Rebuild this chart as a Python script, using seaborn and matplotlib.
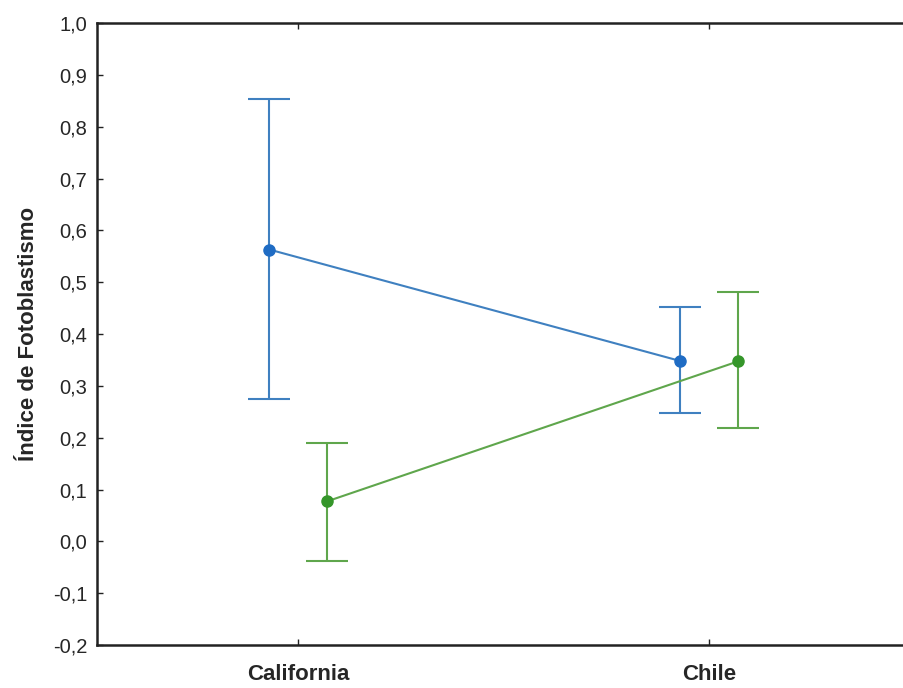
import numpy as np
import pandas as pd
import matplotlib
matplotlib.use("Agg")
import matplotlib.pyplot as plt
import seaborn as sns

# Data
categories = ["California", "Chile"]
groups = ["A", "B"]
mean_a = [0.563, 0.348]
upper_a = [0.853, 0.453]
lower_a = [0.274, 0.247]
mean_b = [0.077, 0.347]
upper_b = [0.189, 0.481]
lower_b = [-0.037, 0.218]
yticks = [-0.2, -0.1, 0.0, 0.1, 0.2, 0.3, 0.4, 0.5, 0.6, 0.7, 0.8, 0.9, 1.0]

colors = {"A": "#1f6cc4", "B": "#35962a"}
line_colors = {"A": "#3f80c0", "B": "#5fa64c"}

df = pd.DataFrame({
    "origen": categories * 2,
    "grupo": ["A"] * 2 + ["B"] * 2,
    "valor": mean_a + mean_b,
    "upper": upper_a + upper_b,
    "lower": lower_a + lower_b,
})

sns.set_style("white")
plt.rcParams["font.family"] = ["Liberation Sans", "DejaVu Sans"]

fig = plt.figure(figsize=(9.04, 6.88), dpi=100)
ax = fig.add_axes([0.107, 0.0625, 0.90, 0.904])

dodge = 0.14
offsets = {"A": -dodge / 2, "B": dodge / 2}

# error bars with caps
for g in groups:
    sub = df[df["grupo"] == g]
    xs = np.arange(len(categories)) + offsets[g]
    ax.errorbar(xs, sub["valor"],
                yerr=[sub["valor"] - sub["lower"], sub["upper"] - sub["valor"]],
                fmt="none", ecolor=line_colors[g], elinewidth=1.5,
                capsize=15, capthick=1.5, zorder=2)

sns.pointplot(data=df, x="origen", y="valor", hue="grupo", order=categories,
              hue_order=groups, palette=line_colors, dodge=dodge,
              errorbar=None, markers="o", linewidth=1.5, markersize=0,
              legend=False, ax=ax, zorder=3)

for g in groups:
    sub = df[df["grupo"] == g]
    xs = np.arange(len(categories)) + offsets[g]
    ax.plot(xs, sub["valor"], "o", color=colors[g], markersize=8, zorder=4)

ax.set_xlim(-0.49, 1.49)
ax.set_ylim(-0.2, 1.0)
ax.set_yticks(yticks)
ax.set_yticklabels([f"{v:.1f}".replace(".", ",") for v in yticks], fontsize=14.5)
ax.set_xticks(range(len(categories)))
ax.set_xticklabels(categories, fontsize=16, fontweight="bold")
ax.set_xlabel("")
ax.set_ylabel("Índice de Fotoblastismo", fontsize=16, fontweight="bold", labelpad=10)

for side in ["left", "bottom", "top"]:
    ax.spines[side].set_visible(True)
    ax.spines[side].set_color("#222222")
    ax.spines[side].set_linewidth(1.8)
ax.spines["right"].set_visible(False)
ax.tick_params(axis="both", direction="in", length=4, width=1, color="#222222",
               top=True, bottom=True, left=True)
ax.tick_params(axis="x", pad=14)
ax.tick_params(axis="y", pad=7)

fig.savefig("out.png", dpi=100)
